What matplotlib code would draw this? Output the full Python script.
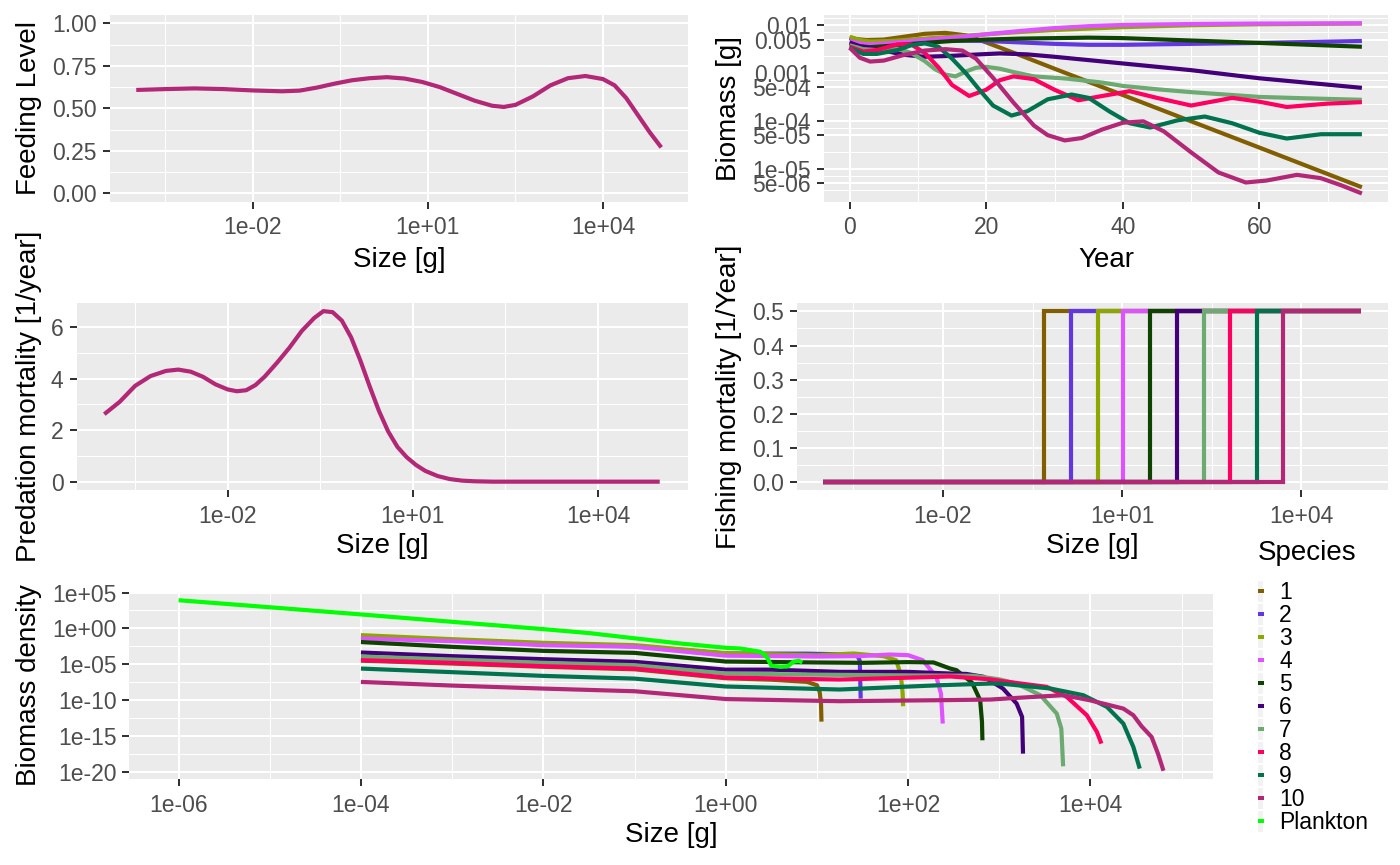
import numpy as np
import matplotlib
matplotlib.use('Agg')
import matplotlib.pyplot as plt
from matplotlib.patches import Rectangle
from matplotlib.ticker import NullFormatter

plt.rcParams['font.family'] = ['Liberation Sans', 'DejaVu Sans']

W, H = 1400, 865

# ---------------- data ----------------
species = ['1', '2', '3', '4', '5', '6', '7', '8', '9', '10']
species_colors = ['#815F00', '#6237E2', '#8DA600', '#DE53FF', '#0E4300',
                  '#430079', '#6CAA72', '#FF0061', '#00734E', '#B32777']
plankton_label = 'Plankton'
plankton_color = '#00FF00'

# Feeding level (log10 size [g], level)
feed_logw = [-4.0, -3.5, -3.0, -2.5, -2.0, -1.5, -1.2, -0.9, -0.6, -0.3, 0.0, 0.3, 0.6,
             0.9, 1.2, 1.5, 1.8, 2.1, 2.3, 2.5, 2.8, 3.1, 3.4, 3.7, 4.0, 4.2, 4.4, 4.6, 4.8, 5.0]
feed_level = [0.608, 0.613, 0.617, 0.613, 0.605, 0.600, 0.604, 0.622, 0.645, 0.665, 0.677,
              0.683, 0.675, 0.655, 0.625, 0.585, 0.545, 0.515, 0.508, 0.520, 0.570, 0.635,
              0.677, 0.690, 0.672, 0.635, 0.560, 0.460, 0.360, 0.270]

# Predation mortality (log10 size [g], 1/year)
pred_logw = [-4.0, -3.75, -3.5, -3.25, -3.0, -2.8, -2.6, -2.4, -2.2, -2.0, -1.85, -1.7, -1.55,
             -1.4, -1.2, -1.0, -0.8, -0.6, -0.45, -0.3, -0.15, 0.0, 0.15, 0.3, 0.45, 0.6, 0.75,
             0.9, 1.05, 1.2, 1.4, 1.6, 1.8, 2.0, 2.3, 3.5, 5.0]
pred_mort = [2.62, 3.10, 3.72, 4.10, 4.30, 4.35, 4.27, 4.07, 3.78, 3.58, 3.51, 3.55, 3.75,
             4.08, 4.62, 5.20, 5.85, 6.35, 6.62, 6.58, 6.25, 5.60, 4.70, 3.70, 2.75, 1.95, 1.35,
             0.95, 0.65, 0.42, 0.22, 0.10, 0.04, 0.015, 0.0, 0.0, 0.0]

# Fishing mortality: knife-edge selectivity (log10 size where F switches on)
fish_min_logw = -4.0
fish_max_logw = 5.0
fish_F = 0.5
fish_step_logw = [-0.31, 0.14, 0.59, 1.02, 1.47, 1.92, 2.37, 2.80, 3.25, 3.70]

# Biomass through time (year, log10 biomass [g])
yr_1 = [0, 1, 2.5, 5, 8, 11, 14, 17, 20, 25, 30, 40, 50, 60, 75]
bm_1 = [-2.26, -2.29, -2.31, -2.30, -2.24, -2.18, -2.16, -2.21, -2.36, -2.63, -2.91, -3.46,
        -4.01, -4.56, -5.39]
yr_2 = [0, 1.5, 3, 6, 10, 15, 20, 25, 30, 35, 40, 50, 60, 75]
bm_2 = [-2.27, -2.34, -2.37, -2.36, -2.34, -2.32, -2.33, -2.36, -2.39, -2.41, -2.41, -2.39,
        -2.37, -2.33]
yr_3 = [0, 1.5, 3, 6, 10, 15, 20, 25, 30, 35, 40, 50, 60, 75]
bm_3 = [-2.24, -2.31, -2.34, -2.33, -2.29, -2.24, -2.19, -2.14, -2.10, -2.07, -2.04, -2.00,
        -1.98, -1.965]
yr_4 = [0, 1.5, 3, 6, 10, 15, 20, 25, 30, 35, 40, 50, 60, 75]
bm_4 = [-2.33, -2.38, -2.40, -2.37, -2.32, -2.26, -2.19, -2.12, -2.06, -2.02, -1.995, -1.975,
        -1.965, -1.96]
yr_5 = [0, 1.5, 3, 6, 10, 15, 20, 25, 30, 35, 40, 50, 60, 75]
bm_5 = [-2.40, -2.44, -2.46, -2.43, -2.38, -2.33, -2.30, -2.28, -2.27, -2.26, -2.27, -2.32,
        -2.37, -2.45]
yr_6 = [0, 1.5, 3, 5, 8, 11, 15, 19, 22, 26, 30, 35, 40, 50, 60, 75]
bm_6 = [-2.36, -2.44, -2.48, -2.53, -2.62, -2.66, -2.64, -2.61, -2.59, -2.61, -2.66, -2.73,
        -2.80, -2.94, -3.11, -3.31]
yr_7 = [0, 2, 4, 7, 9, 11, 12.5, 14, 15.5, 17, 18.5, 20, 22, 24, 27, 32, 37, 40, 45, 50, 55,
        60, 67, 75]
bm_7 = [-2.42, -2.50, -2.52, -2.49, -2.58, -2.75, -2.92, -3.03, -3.07, -2.97, -2.89, -2.87,
        -2.91, -2.98, -3.07, -3.12, -3.20, -3.27, -3.34, -3.40, -3.45, -3.50, -3.53, -3.56]
yr_8 = [0, 2, 4, 7, 9, 11, 13, 15, 17.5, 20, 22, 24, 27, 30, 33.5, 37, 41, 45, 50, 53, 56,
        60, 64, 70, 75]
bm_8 = [-2.45, -2.55, -2.52, -2.40, -2.40, -2.58, -2.88, -3.25, -3.48, -3.35, -3.15, -3.07,
        -3.13, -3.35, -3.57, -3.48, -3.38, -3.52, -3.68, -3.60, -3.52, -3.60, -3.71, -3.64,
        -3.61]
yr_9 = [0, 2, 4, 7, 9, 11, 13, 15, 17, 19, 21, 23.7, 26, 29, 32.5, 35, 38, 41, 44, 48, 52,
        56, 60, 64, 69, 75]
bm_9 = [-2.47, -2.60, -2.60, -2.52, -2.42, -2.38, -2.45, -2.70, -3.00, -3.35, -3.68, -3.89,
        -3.80, -3.55, -3.45, -3.52, -3.80, -4.05, -4.14, -3.99, -3.91, -4.05, -4.25, -4.37,
        -4.28, -4.28]
yr_10 = [0, 1.5, 3, 5, 8, 11, 14, 16.5, 18.5, 21, 24, 27, 29, 31.5, 34, 37, 40, 43, 46, 50,
         54, 58, 61, 65.5, 69, 72, 75]
bm_10 = [-2.47, -2.68, -2.76, -2.74, -2.62, -2.53, -2.50, -2.53, -2.70, -3.10, -3.62, -4.10,
         -4.30, -4.41, -4.36, -4.18, -4.04, -4.01, -4.22, -4.66, -5.08, -5.29, -5.25, -5.13,
         -5.20, -5.35, -5.52]

# Biomass density spectra (log10 size [g], log10 biomass density)
sw_1 = [-4, -3, -2, -1, 0, 0.5, 0.89, 1.0, 1.03, 1.045, 1.05]
sb_1 = [-4.50, -4.90, -5.35, -5.70, -6.95, -7.15, -7.45, -7.92, -8.85, -10.5, -13.0]
sw_2 = [-4, -3, -2, -1, 0, 0.9, 1.2, 1.44, 1.47, 1.48]
sb_2 = [-1.20, -1.65, -2.20, -2.50, -3.50, -3.52, -3.60, -3.70, -4.50, -9.78]
sw_3 = [-4, -3, -2, -1, 0, 0.5, 1.0, 1.4, 1.73, 1.87, 1.92, 1.94, 1.945]
sb_3 = [-0.94, -1.50, -2.01, -2.33, -3.45, -3.60, -3.75, -3.50, -3.87, -4.45, -6.50, -9.00,
        -10.85]
sw_4 = [-4, -3, -2, -1, 0, 0.5, 1.0, 1.5, 1.8, 2.0, 2.16, 2.31, 2.36, 2.38]
sb_4 = [-1.40, -1.78, -2.34, -2.56, -3.80, -3.85, -3.92, -3.85, -3.64, -3.73, -4.43, -6.76,
        -9.08, -13.27]
sw_5 = [-4, -3, -2, -1, 0, 1.0, 1.5, 2.0, 2.28, 2.46, 2.53, 2.70, 2.79, 2.81, 2.815]
sb_5 = [-1.90, -2.57, -3.13, -3.41, -4.62, -4.75, -4.80, -4.70, -4.75, -5.59, -5.82, -7.55,
        -10.0, -13.0, -15.6]
sw_6 = [-4, -3, -2, -1, 0, 0.5, 1.25, 2.0, 2.46, 2.64, 2.83, 3.04, 3.19, 3.25, 3.26]
sb_6 = [-3.36, -3.87, -4.29, -4.66, -5.75, -5.75, -6.06, -6.06, -6.29, -6.35, -6.75, -8.38,
        -10.48, -12.34, -17.46]
sw_7 = [-4, -3, -2, -1, 0, 1.0, 2.0, 2.72, 3.0, 3.19, 3.45, 3.63, 3.68, 3.70]
sb_7 = [-3.92, -4.34, -4.80, -5.13, -6.29, -6.45, -6.55, -6.60, -7.10, -7.69, -9.31, -11.88,
        -13.97, -19.23]
sw_8 = [-4, -3, -2, -1, 0, 1.25, 2.2, 2.46, 2.9, 3.0, 3.52, 3.74, 3.96, 4.07, 4.12]
sb_8 = [-4.43, -4.80, -5.27, -5.60, -6.85, -7.13, -6.80, -6.70, -7.10, -7.30, -8.15, -9.55,
        -12.11, -14.43, -16.06]
sw_9 = [-4, -3, -2, -1, 0, 1.25, 2.35, 2.9, 3.01, 3.56, 3.92, 4.18, 4.36, 4.47, 4.54]
sb_9 = [-5.60, -6.10, -6.62, -7.00, -8.10, -8.52, -7.92, -7.69, -7.69, -8.38, -9.31, -10.94,
        -13.27, -16.53, -19.55]
sw_10 = [-4, -3, -2, -1, 0, 1.25, 2.35, 2.9, 3.19, 3.70, 3.99, 4.36, 4.47, 4.56, 4.67, 4.74,
         4.80]
sb_10 = [-7.46, -7.97, -8.39, -8.76, -9.85, -10.15, -10.01, -9.92, -9.69, -9.31, -10.01,
         -11.18, -12.11, -13.64, -15.13, -17.46, -19.85]
plankton_w = [-6, -5, -4, -3, -2, -1.5, -1, -0.5, 0, 0.16, 0.38, 0.45, 0.5, 0.6, 0.68, 0.74,
              0.8, 0.84]
plankton_b = [3.93, 2.95, 1.95, 0.92, -0.10, -0.65, -1.38, -2.10, -2.70, -2.80, -3.26, -3.96,
              -5.20, -5.36, -5.30, -4.66, -4.52, -4.75]

years = [yr_1, yr_2, yr_3, yr_4, yr_5, yr_6, yr_7, yr_8, yr_9, yr_10]
biomass = [bm_1, bm_2, bm_3, bm_4, bm_5, bm_6, bm_7, bm_8, bm_9, bm_10]
spec_w = [sw_1, sw_2, sw_3, sw_4, sw_5, sw_6, sw_7, sw_8, sw_9, sw_10]
spec_b = [sb_1, sb_2, sb_3, sb_4, sb_5, sb_6, sb_7, sb_8, sb_9, sb_10]

# ---------------- style ----------------
PANEL_BG = '#EBEBEB'
LW = 3.0
TITLE_FS = 20
TICK_FS = 16.5

fig = plt.figure(figsize=(W / 100, H / 100), dpi=100)


def px_axes(x0, x1, y0, y1):
    return fig.add_axes([x0 / W, 1 - y1 / H, (x1 - x0) / W, (y1 - y0) / H])


def gg_range(lo, hi, frac=0.05):
    d = (hi - lo) * frac
    return lo - d, hi + d


def style(ax, xmaj, xlab, xmin, ymaj, ylab, ymin):
    ax.set_facecolor(PANEL_BG)
    for s in ax.spines.values():
        s.set_visible(False)
    ax.set_xticks(xmaj)
    ax.set_xticklabels(xlab)
    ax.set_xticks(xmin, minor=True)
    ax.set_yticks(ymaj)
    ax.set_yticklabels(ylab)
    ax.set_yticks(ymin, minor=True)
    ax.xaxis.set_minor_formatter(NullFormatter())
    ax.yaxis.set_minor_formatter(NullFormatter())
    ax.grid(which='major', color='white', lw=1.45)
    ax.grid(which='minor', color='white', lw=0.72)
    ax.set_axisbelow(True)
    ax.tick_params(which='major', length=4.8, width=1.45, color='#333333',
                   labelcolor='#4D4D4D', labelsize=TICK_FS)
    ax.tick_params(axis='x', which='major', pad=5.5)
    ax.tick_params(axis='y', which='major', pad=4.5)
    ax.tick_params(which='minor', length=0, width=0)


def ftext(x, y, s, **kw):
    fig.text(x / W, 1 - y / H, s, **kw)


line_kw = dict(lw=LW, solid_capstyle='butt', solid_joinstyle='round')

size_major_top = [1e-2, 1e1, 1e4]
size_major_top_lab = ['1e-02', '1e+01', '1e+04']
size_minor_top = [10 ** -3.5, 10 ** -0.5, 10 ** 2.5]

# ---- Panel 1: feeding level ----
ax1 = px_axes(110, 687.5, 14.8, 201.8)
ax1.plot(10 ** np.array(feed_logw), feed_level, color=species_colors[-1], **line_kw)
ax1.set_xscale('log')
lo, hi = gg_range(min(feed_logw), max(feed_logw))
ax1.set_xlim(10 ** lo, 10 ** hi)
ax1.set_ylim(*gg_range(0, 1))
style(ax1, size_major_top, size_major_top_lab, size_minor_top,
      [0, 0.25, 0.5, 0.75, 1.0], ['0.00', '0.25', '0.50', '0.75', '1.00'],
      [0.125, 0.375, 0.625, 0.875])

# ---- Panel 2: biomass through time ----
ax2 = px_axes(824, 1387.5, 14.8, 202)
for i in range(10):
    ax2.plot(years[i], 10 ** np.array(biomass[i]), color=species_colors[i], **line_kw)
ax2.set_yscale('log')
all_yr = [y for ys in years for y in ys]
all_bm = [b for bs in biomass for b in bs]
ax2.set_xlim(*gg_range(min(all_yr), max(all_yr)))
lo, hi = gg_range(min(all_bm), max(all_bm))
ax2.set_ylim(10 ** lo, 10 ** hi)
bm_major = [0.01, 0.005, 0.001, 5e-4, 1e-4, 5e-5, 1e-5, 5e-6]
bm_major_lab = ['0.01', '0.005', '0.001', '5e-04', '1e-04', '5e-05', '1e-05', '5e-06']
lb = sorted(np.log10(bm_major))
step = lb[1] - lb[0]
lb_ext = [lb[0] - step] + lb + [lb[-1] + step]
bm_minor = [10 ** ((lb_ext[k] + lb_ext[k + 1]) / 2) for k in range(len(lb_ext) - 1)]
style(ax2, [0, 20, 40, 60], ['0', '20', '40', '60'], [10, 30, 50, 70],
      bm_major, bm_major_lab, bm_minor)

# ---- Panel 3: predation mortality ----
ax3 = px_axes(76.5, 687.5, 302.6, 490.2)
ax3.plot(10 ** np.array(pred_logw), pred_mort, color=species_colors[-1], **line_kw)
ax3.set_xscale('log')
lo, hi = gg_range(min(pred_logw), max(pred_logw))
ax3.set_xlim(10 ** lo, 10 ** hi)
ax3.set_ylim(*gg_range(min(pred_mort), max(pred_mort)))
style(ax3, size_major_top, size_major_top_lab, size_minor_top,
      [0, 2, 4, 6], ['0', '2', '4', '6'], [1, 3, 5])

# ---- Panel 4: fishing mortality ----
ax4 = px_axes(796.5, 1388, 302.9, 490.4)
for i in range(10):
    xs = 10 ** np.array([fish_min_logw, fish_step_logw[i], fish_step_logw[i], fish_max_logw])
    ys = [0, 0, fish_F, fish_F]
    ax4.plot(xs, ys, color=species_colors[i], lw=LW, solid_capstyle='butt',
             solid_joinstyle='miter')
ax4.set_xscale('log')
lo, hi = gg_range(fish_min_logw, fish_max_logw)
ax4.set_xlim(10 ** lo, 10 ** hi)
ax4.set_ylim(*gg_range(0, fish_F))
style(ax4, size_major_top, size_major_top_lab, size_minor_top,
      [0, 0.1, 0.2, 0.3, 0.4, 0.5], ['0.0', '0.1', '0.2', '0.3', '0.4', '0.5'],
      [0.05, 0.15, 0.25, 0.35, 0.45])

# ---- Panel 5: biomass density spectra ----
ax5 = px_axes(129.3, 1212.7, 591.7, 779.3)
for i in range(10):
    ax5.plot(10 ** np.array(spec_w[i]), 10 ** np.array(spec_b[i]), color=species_colors[i],
             **line_kw)
ax5.plot(10 ** np.array(plankton_w), 10 ** np.array(plankton_b), color=plankton_color,
         **line_kw)
ax5.set_xscale('log')
ax5.set_yscale('log')
all_w = [w for ws in spec_w for w in ws] + plankton_w
all_b = [b for bs in spec_b for b in bs] + plankton_b
lo, hi = gg_range(min(all_w), max(all_w))
ax5.set_xlim(10 ** lo, 10 ** hi)
lo, hi = gg_range(min(all_b), max(all_b))
ax5.set_ylim(10 ** lo, 10 ** hi)
style(ax5, [1e-6, 1e-4, 1e-2, 1e0, 1e2, 1e4],
      ['1e-06', '1e-04', '1e-02', '1e+00', '1e+02', '1e+04'],
      [1e-5, 1e-3, 1e-1, 1e1, 1e3, 1e5],
      [1e5, 1e0, 1e-5, 1e-10, 1e-15, 1e-20],
      ['1e+05', '1e+00', '1e-05', '1e-10', '1e-15', '1e-20'],
      [10 ** 2.5, 10 ** -2.5, 10 ** -7.5, 10 ** -12.5, 10 ** -17.5])

# ---------------- axis titles ----------------
tkw = dict(fontsize=TITLE_FS, color='black')
ftext(29, 108.3, 'Feeding Level', rotation=90, ha='center', va='center', **tkw)
ftext(399, 267, 'Size [g]', ha='center', va='baseline', **tkw)
ftext(729, 108.3, 'Biomass [g]', rotation=90, ha='center', va='center', **tkw)
ftext(1106, 267, 'Year', ha='center', va='baseline', **tkw)
ftext(29, 396.4, 'Predation mortality [1/year]', rotation=90, ha='center', va='center', **tkw)
ftext(382, 553, 'Size [g]', ha='center', va='baseline', **tkw)
ftext(729, 396.6, 'Fishing mortality [1/Year]', rotation=90, ha='center', va='center', **tkw)
ftext(1092, 553, 'Size [g]', ha='center', va='baseline', **tkw)
ftext(29, 685.5, 'Biomass density', rotation=90, ha='center', va='center', **tkw)
ftext(671, 842, 'Size [g]', ha='center', va='baseline', **tkw)

# ---------------- legend ----------------
ftext(1257.3, 560, 'Species', ha='left', va='baseline', **tkw)
legend_labels = species + [plankton_label]
legend_colors = species_colors + [plankton_color]
for k, (lab, col) in enumerate(zip(legend_labels, legend_colors)):
    yc = 591 + 23 * k
    fig.patches.append(Rectangle((1257.5 / W, 1 - (yc + 10.5) / H), 5.5 / W, 21 / H,
                                 transform=fig.transFigure, facecolor='#F2F2F2',
                                 edgecolor='none'))
    fig.patches.append(Rectangle((1257.5 / W, 1 - (yc + 2) / H), 6 / W, 4 / H,
                                 transform=fig.transFigure, facecolor=col, edgecolor='none'))
    ftext(1279.3, yc + 8.3, lab, ha='left', va='baseline', fontsize=TICK_FS, color='black')

fig.savefig('out.png', dpi=100)
